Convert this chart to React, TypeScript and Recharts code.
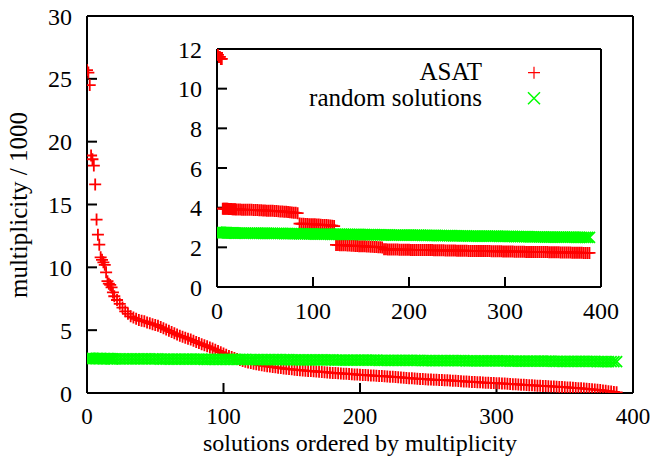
import { ScatterChart, Scatter, XAxis, YAxis, Legend } from 'recharts';

// rank of the solution (x), shared by every series
const ranks = [
  0, 1, 2, 3, 4, 5, 6, 7, 8, 9, 10, 11, 12, 13, 14, 15, 16, 17, 18, 19, 20,
  22, 24, 26, 28, 30, 32, 34, 36, 38, 40,
  42, 44, 46, 48, 50, 52, 54, 56, 58, 60,
  62, 64, 66, 68, 70, 72, 74, 76, 78, 80,
  82, 84, 86, 88, 90, 92, 94, 96, 98, 100,
  102, 104, 106, 108, 110, 112, 114, 116, 118, 120,
  122, 124, 126, 128, 130, 132, 134, 136, 138, 140,
  142, 144, 146, 148, 150, 152, 154, 156, 158, 160,
  162, 164, 166, 168, 170, 172, 174, 176, 178, 180,
  182, 184, 186, 188, 190, 192, 194, 196, 198, 200,
  202, 204, 206, 208, 210, 212, 214, 216, 218, 220,
  222, 224, 226, 228, 230, 232, 234, 236, 238, 240,
  242, 244, 246, 248, 250, 252, 254, 256, 258, 260,
  262, 264, 266, 268, 270, 272, 274, 276, 278, 280,
  282, 284, 286, 288, 290, 292, 294, 296, 298, 300,
  302, 304, 306, 308, 310, 312, 314, 316, 318, 320,
  322, 324, 326, 328, 330, 332, 334, 336, 338, 340,
  342, 344, 346, 348, 350, 352, 354, 356, 358, 360,
  362, 364, 366, 368, 370, 372, 374, 376, 378, 380,
  382, 384, 386, 388,
];

// multiplicity / 1000, big plot
const asatMain = [
  25.7, 25.5, 24.5, 18.9, 18.6, 18.1, 16.6, 13.8, 12.6, 11.8, 10.8, 10.6, 10.4, 10.2, 9.6, 8.9, 8.7, 8.6, 8.4, 8.0, 7.7,
  7.4, 7.1, 6.8, 6.5, 6.3, 6.1, 6.0, 5.9, 5.8, 5.75,
  5.7, 5.62, 5.55, 5.48, 5.42, 5.35, 5.25, 5.15, 5.05, 4.95,
  4.85, 4.75, 4.65, 4.55, 4.48, 4.4, 4.32, 4.25, 4.15, 4.05,
  3.97, 3.88, 3.8, 3.72, 3.63, 3.55, 3.45, 3.35, 3.25, 3.15,
  3.05, 2.95, 2.87, 2.78, 2.7, 2.62, 2.55, 2.48, 2.43, 2.38,
  2.33, 2.29, 2.25, 2.21, 2.17, 2.13, 2.1, 2.07, 2.04, 2.01,
  1.98, 1.95, 1.92, 1.9, 1.88, 1.86, 1.84, 1.82, 1.8, 1.78,
  1.76, 1.75, 1.73, 1.71, 1.69, 1.68, 1.66, 1.64, 1.62, 1.6,
  1.59, 1.57, 1.56, 1.54, 1.53, 1.51, 1.5, 1.48, 1.47, 1.45,
  1.44, 1.43, 1.41, 1.4, 1.39, 1.37, 1.36, 1.35, 1.33, 1.32,
  1.3, 1.29, 1.27, 1.26, 1.24, 1.22, 1.2, 1.18, 1.17, 1.15,
  1.14, 1.12, 1.11, 1.1, 1.08, 1.07, 1.06, 1.05, 1.04, 1.03,
  1.02, 1.01, 1.0, 0.98, 0.97, 0.95, 0.94, 0.92, 0.91, 0.9,
  0.88, 0.87, 0.86, 0.85, 0.83, 0.82, 0.81, 0.8, 0.79, 0.78,
  0.77, 0.76, 0.75, 0.73, 0.72, 0.7, 0.69, 0.68, 0.66, 0.65,
  0.64, 0.62, 0.61, 0.6, 0.58, 0.57, 0.56, 0.55, 0.54, 0.52,
  0.51, 0.5, 0.48, 0.47, 0.46, 0.44, 0.43, 0.41, 0.4, 0.38,
  0.37, 0.35, 0.33, 0.31, 0.29, 0.27, 0.25, 0.23, 0.2, 0.17,
  0.14, 0.11, 0.08, 0.05,
];

// random solutions, used in both plots
const randomSolutions = [
  2.76, 2.75, 2.75, 2.75, 2.75, 2.74, 2.74, 2.74, 2.74, 2.74, 2.74, 2.73, 2.73, 2.73, 2.73, 2.73, 2.73, 2.73, 2.72, 2.72, 2.72,
  2.72, 2.72, 2.72, 2.72, 2.72, 2.72, 2.72, 2.72,
  2.71, 2.71, 2.71, 2.71, 2.71, 2.71, 2.71, 2.71,
  2.7, 2.7, 2.7, 2.7, 2.7, 2.7, 2.7, 2.7,
  2.69, 2.69, 2.69, 2.69, 2.69, 2.69, 2.69, 2.69,
  2.68, 2.68, 2.68, 2.68, 2.68, 2.68, 2.68, 2.68,
  2.67, 2.67, 2.67, 2.67, 2.67, 2.67, 2.67, 2.67,
  2.66, 2.66, 2.66, 2.66, 2.66, 2.66, 2.66, 2.66,
  2.65, 2.65, 2.65, 2.65, 2.65, 2.65, 2.65, 2.65,
  2.64, 2.64, 2.64, 2.64, 2.64, 2.64, 2.64, 2.64,
  2.63, 2.63, 2.63, 2.63, 2.63, 2.63, 2.63, 2.63,
  2.62, 2.62, 2.62, 2.62, 2.62, 2.62, 2.62, 2.62,
  2.61, 2.61, 2.61, 2.61, 2.61, 2.61, 2.61, 2.61,
  2.6, 2.6, 2.6, 2.6, 2.6, 2.6, 2.6, 2.6,
  2.59, 2.59, 2.59, 2.59, 2.59, 2.59, 2.59, 2.59,
  2.58, 2.58, 2.58, 2.58, 2.58, 2.58, 2.58, 2.58,
  2.57, 2.57, 2.57, 2.57, 2.57, 2.57, 2.57, 2.57,
  2.56, 2.56, 2.56, 2.56, 2.56, 2.56, 2.56, 2.56,
  2.55, 2.55, 2.55, 2.55, 2.55, 2.55, 2.55, 2.55,
  2.54, 2.54, 2.54, 2.54, 2.54, 2.54, 2.54, 2.54,
  2.53, 2.53, 2.53, 2.53, 2.53, 2.53, 2.53, 2.53,
  2.52, 2.52, 2.52, 2.52, 2.52, 2.52, 2.52, 2.52,
  2.51, 2.51, 2.51, 2.51, 2.51, 2.51, 2.51, 2.51,
  2.5, 2.5, 2.5, 2.5, 2.5, 2.5, 2.5, 2.5,
];

// multiplicity / 1000, inset
const asatInset = [
  11.8, 11.7, 11.6, 11.6, 11.5, 11.5,
  3.95, 3.95, 3.95, 3.94, 3.94, 3.94, 3.93, 3.93, 3.93, 3.93, 3.92, 3.92, 3.92, 3.92, 3.91,
  3.91, 3.91, 3.9, 3.9, 3.9, 3.89, 3.89, 3.89, 3.88, 3.88,
  3.88, 3.87, 3.87, 3.86, 3.86, 3.85, 3.85, 3.84, 3.84, 3.83,
  3.83, 3.82, 3.81, 3.81, 3.8, 3.79, 3.78, 3.77, 3.76, 3.75,
  3.74, 3.72, 3.2, 3.19, 3.19, 3.18, 3.18, 3.17, 3.17, 3.16,
  3.16, 3.15, 3.15, 3.14, 3.13, 3.13, 3.12, 3.11, 3.1, 3.09,
  3.07, 2.12, 2.12, 2.11, 2.11, 2.1, 2.1, 2.09, 2.09, 2.08,
  2.08, 2.07, 2.07, 2.06, 2.06, 2.05, 2.05, 2.04, 2.04, 2.03,
  2.03, 2.02, 2.02, 2.01, 2.0, 1.99, 1.9, 1.9, 1.89, 1.89,
  1.89, 1.89, 1.89, 1.89, 1.88, 1.88, 1.88, 1.88, 1.88, 1.88,
  1.87, 1.87, 1.87, 1.87, 1.87, 1.87, 1.86, 1.86, 1.86, 1.86,
  1.86, 1.86, 1.85, 1.85, 1.85, 1.85, 1.85, 1.85, 1.84, 1.84,
  1.84, 1.84, 1.84, 1.84, 1.83, 1.83, 1.83, 1.83, 1.83, 1.83,
  1.82, 1.82, 1.82, 1.82, 1.82, 1.82, 1.81, 1.81, 1.81, 1.81,
  1.81, 1.81, 1.8, 1.8, 1.8, 1.8, 1.8, 1.8, 1.79, 1.79,
  1.79, 1.79, 1.79, 1.79, 1.78, 1.78, 1.78, 1.78, 1.78, 1.78,
  1.77, 1.77, 1.77, 1.77, 1.77, 1.77, 1.76, 1.76, 1.76, 1.76,
  1.76, 1.76, 1.75, 1.75, 1.75, 1.75, 1.75, 1.75, 1.74, 1.74,
  1.74, 1.74, 1.74, 1.74, 1.73, 1.73, 1.73, 1.73, 1.73, 1.73,
  1.72, 1.72, 1.72, 1.72,
];

const xTicks = [0, 100, 200, 300, 400];
const mainYTicks = [0, 5, 10, 15, 20, 25, 30];
const insetYTicks = [0, 2, 4, 6, 8, 10, 12];

const RED = '#ff0000';
const GREEN = '#00ff00';
const FONT = "'Liberation Serif', 'Times New Roman', Times, serif";

const toPoints = (ys: number[]) => ranks.map((x, i) => ({ x, y: ys[i] }));

const PlusMark = (props: any) => {
  const { cx, cy } = props;
  return <path d={`M${cx - 6},${cy}h12M${cx},${cy - 6}v12`} stroke={RED} strokeWidth={1.8} fill="none" />;
};

const CrossMark = (props: any) => {
  const { cx, cy } = props;
  return (
    <path
      d={`M${cx - 5.5},${cy - 5.5}l11,11M${cx - 5.5},${cy + 5.5}l11,-11`}
      stroke={GREEN}
      strokeWidth={1.8}
      fill="none"
    />
  );
};

const line = { stroke: '#000', strokeWidth: 2 };
const tickFont = { fill: '#000', fontSize: 24, fontFamily: FONT };
const bottomTickFont = { fill: '#000', fontSize: 23, fontFamily: FONT };

const InsetLegend = () => (
  <svg width={480} height={300} style={{ overflow: 'visible' }}>
    <text x={332} y={49.5} textAnchor="end" fontSize={25} fontFamily={FONT} fill="#000">ASAT</text>
    <path d="M378,42.7h12M384,36.7v12" stroke={RED} strokeWidth={1.2} fill="none" />
    <text x={332} y={76} textAnchor="end" fontSize={25} fontFamily={FONT} fill="#000">random solutions</text>
    <path d="M378,62.3l12,12M378,74.3l12,-12" stroke={GREEN} strokeWidth={1.5} fill="none" />
  </svg>
);

export default function App() {
  const asatMainPts = toPoints(asatMain);
  const randomPts = toPoints(randomSolutions);
  const asatInsetPts = toPoints(asatInset);

  return (
    <div style={{ position: 'absolute', left: 0, top: 0, width: 657, height: 458, background: '#fff' }}>
      {/* main plot */}
      <div style={{ position: 'absolute', left: 0, top: 0 }}>
        <ScatterChart width={657} height={458} margin={{ top: 16, right: 24, bottom: 0, left: 0 }}>
          <XAxis
            xAxisId="b" type="number" dataKey="x" domain={[0, 400]} ticks={xTicks} interval={0}
            height={65} axisLine={line} tickLine={line} tickSize={-10} tickMargin={25} tick={bottomTickFont}
            allowDataOverflow
          />
          <XAxis
            xAxisId="t" orientation="top" mirror type="number" dataKey="x" domain={[0, 400]} ticks={xTicks}
            interval={0} axisLine={line} tickLine={line} tickSize={10} tick={false} allowDataOverflow
          />
          <YAxis
            yAxisId="l" type="number" dataKey="y" domain={[0, 30]} ticks={mainYTicks} interval={0}
            width={87} axisLine={line} tickLine={line} tickSize={-10} tickMargin={25} tick={tickFont}
            allowDataOverflow
          />
          <YAxis
            yAxisId="r" orientation="right" mirror type="number" dataKey="y" domain={[0, 30]} ticks={mainYTicks}
            interval={0} axisLine={line} tickLine={line} tickSize={10} tick={false} allowDataOverflow
          />
          <Scatter xAxisId="b" yAxisId="l" data={asatMainPts} shape={PlusMark} isAnimationActive={false} />
          <Scatter xAxisId="b" yAxisId="l" data={randomPts} shape={CrossMark} isAnimationActive={false} />
        </ScatterChart>
      </div>

      {/* inset */}
      <div style={{ position: 'absolute', left: 150, top: 30 }}>
        <ScatterChart width={480} height={300} margin={{ top: 19, right: 29, bottom: 0, left: 0 }}>
          <XAxis
            xAxisId="b" type="number" dataKey="x" domain={[0, 400]} ticks={xTicks} interval={0}
            height={43} axisLine={line} tickLine={line} tickSize={-10} tickMargin={25} tick={tickFont}
            allowDataOverflow
          />
          <XAxis
            xAxisId="t" orientation="top" mirror type="number" dataKey="x" domain={[0, 400]} ticks={xTicks}
            interval={0} axisLine={line} tickLine={line} tickSize={10} tick={false} allowDataOverflow
          />
          <YAxis
            yAxisId="l" type="number" dataKey="y" domain={[0, 12]} ticks={insetYTicks} interval={0}
            width={67} axisLine={line} tickLine={line} tickSize={-10} tickMargin={25} tick={tickFont}
            allowDataOverflow
          />
          <YAxis
            yAxisId="r" orientation="right" mirror type="number" dataKey="y" domain={[0, 12]} ticks={insetYTicks}
            interval={0} axisLine={line} tickLine={line} tickSize={10} tick={false} allowDataOverflow
          />
          <Legend
            content={InsetLegend}
            wrapperStyle={{ position: 'absolute', left: 0, top: 0, width: 0, height: 0, overflow: 'visible' }}
          />
          <Scatter xAxisId="b" yAxisId="l" data={asatInsetPts} shape={PlusMark} isAnimationActive={false} />
          <Scatter xAxisId="b" yAxisId="l" data={randomPts} shape={CrossMark} isAnimationActive={false} />
        </ScatterChart>
      </div>

      {/* axis titles */}
      <svg width={657} height={458} style={{ position: 'absolute', left: 0, top: 0, pointerEvents: 'none' }}>
        <text x={360} y={451} textAnchor="middle" fontSize={24} fontFamily={FONT} fill="#000">
          solutions ordered by multiplicity
        </text>
        <text transform="translate(27,205) rotate(-90)" textAnchor="middle" fontSize={25} fontFamily={FONT} fill="#000">
          multiplicity / 1000
        </text>
      </svg>
    </div>
  );
}
